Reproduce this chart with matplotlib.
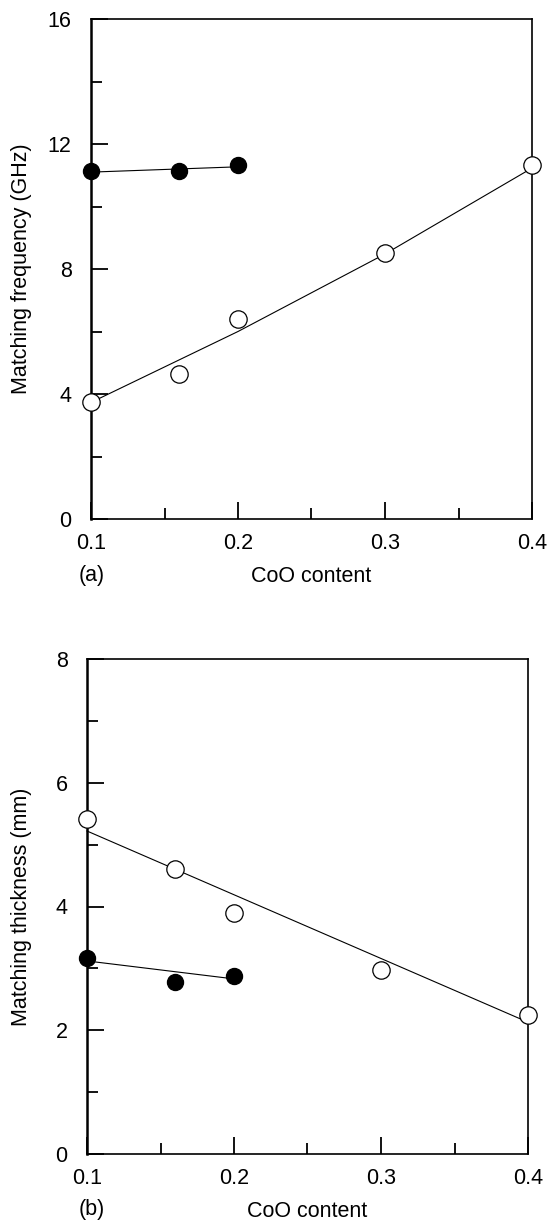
import matplotlib
matplotlib.use("Agg")
import matplotlib.pyplot as plt
from matplotlib.ticker import MultipleLocator

plt.rcParams['font.family'] = ['Liberation Sans', 'DejaVu Sans']

# ---- data (a) ----
a_open_x = [0.1, 0.16, 0.2, 0.3, 0.4]
a_open_y = [3.75, 4.64, 6.40, 8.50, 11.32]
a_open_fit_x = [0.1, 0.2, 0.3, 0.4]
a_open_fit_y = [3.73, 6.00, 8.48, 11.23]
a_fill_x = [0.1, 0.16, 0.2]
a_fill_y = [11.15, 11.15, 11.32]
a_fill_fit_x = [0.1, 0.2]
a_fill_fit_y = [11.10, 11.27]

# ---- data (b) ----
b_open_x = [0.1, 0.16, 0.2, 0.3, 0.4]
b_open_y = [5.41, 4.60, 3.89, 2.98, 2.25]
b_open_fit_x = [0.1, 0.4]
b_open_fit_y = [5.22, 2.13]
b_fill_x = [0.1, 0.16, 0.2]
b_fill_y = [3.16, 2.78, 2.87]
b_fill_fit_x = [0.1, 0.2]
b_fill_fit_y = [3.12, 2.83]

x_ticks = [0.1, 0.2, 0.3, 0.4]
x_tick_labels = ['0.1', '0.2', '0.3', '0.4']

W, H = 548, 1221
fig = plt.figure(figsize=(W / 100, H / 100), dpi=100)

FS = 15.5


def style(ax, ymax, ymajor, yminor, ylabel, tag, ylab_x, tag_x):
    ax.set_xlim(0.1, 0.4)
    ax.set_ylim(0, ymax)
    ax.set_xticks(x_ticks)
    ax.set_xticklabels(x_tick_labels)
    ax.xaxis.set_minor_locator(MultipleLocator(0.05))
    ax.yaxis.set_major_locator(MultipleLocator(ymajor))
    ax.yaxis.set_minor_locator(MultipleLocator(yminor))
    ax.tick_params(which='both', direction='in', top=False, right=False,
                   width=1.3, labelsize=FS)
    ax.tick_params(which='major', length=12)
    ax.tick_params(which='minor', length=8)
    ax.tick_params(axis='y', which='both', pad=14)
    ax.tick_params(axis='x', which='both', pad=10)
    for s in ax.spines.values():
        s.set_linewidth(1.2)
    ax.spines['left'].set_linewidth(1.8)
    ax.set_ylabel(ylabel, fontsize=FS)
    ax.yaxis.set_label_coords(ylab_x, 0.5)
    ax.set_xlabel('CoO content', fontsize=FS)
    ax.xaxis.set_label_coords(0.5, -0.095)
    ax.text(tag_x, -0.112, tag, transform=ax.transAxes, fontsize=FS,
            ha='left', va='center')


def draw(ax, ox, oy, fx, fy, px, py, qx, qy):
    ax.plot(fx, fy, color='black', lw=0.8, clip_on=False, zorder=2)
    ax.plot(qx, qy, color='black', lw=0.8, clip_on=False, zorder=2)
    ax.plot(ox, oy, 'o', ms=12.5, mfc='white', mec='black', mew=0.9,
            clip_on=False, zorder=3, linestyle='none')
    ax.plot(px, py, 'o', ms=11.5, mfc='black', mec='black',
            clip_on=False, zorder=3, linestyle='none')


# top panel (a)
ax1 = fig.add_axes([91 / W, 1 - 519 / H, 441 / W, 500 / H])
style(ax1, 16, 4, 2, 'Matching frequency (GHz)', '(a)', -0.134, -0.029)
draw(ax1, a_open_x, a_open_y, a_open_fit_x, a_open_fit_y,
     a_fill_x, a_fill_y, a_fill_fit_x, a_fill_fit_y)

# bottom panel (b)
ax2 = fig.add_axes([87 / W, 1 - 1154 / H, 441 / W, 495 / H])
style(ax2, 8, 2, 1, 'Matching thickness (mm)', '(b)', -0.125, -0.020)
draw(ax2, b_open_x, b_open_y, b_open_fit_x, b_open_fit_y,
     b_fill_x, b_fill_y, b_fill_fit_x, b_fill_fit_y)

fig.savefig('out.png', dpi=100, facecolor='white')
